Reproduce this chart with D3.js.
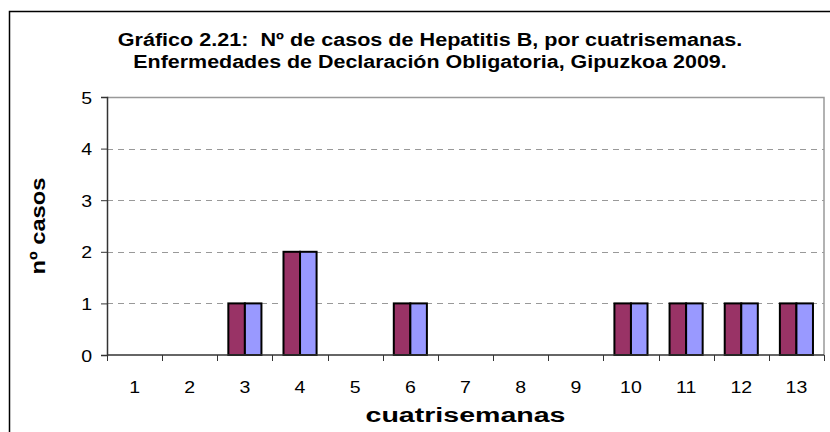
<!DOCTYPE html>
<html>
<head>
<meta charset="utf-8">
<script src="https://cdn.jsdelivr.net/npm/d3@7"></script>
<style>
body { margin:0; background:#fff; }
svg text { font-family: "Liberation Sans", Arial, sans-serif; fill:#000; white-space: pre; }
</style>
</head>
<body>
<div id="chart"></div>
<script>
// Hepatitis B cases per 4-week period - grouped bars

var categories = ["1","2","3","4","5","6","7","8","9","10","11","12","13"];
var seriesA = [0,0,1,2,0,1,0,0,0,1,1,1,1];
var seriesB = [0,0,1,2,0,1,0,0,0,1,1,1,1];
var yTicks = [0,1,2,3,4,5];
var titleLines = ["Gráfico 2.21:  Nº de casos de Hepatitis B, por cuatrisemanas.",
                  "Enfermedades de Declaración Obligatoria, Gipuzkoa 2009."];

var W = 830, H = 432;
var margin = {top:97, bottom:77, left:107, right:6};
var plotW = W - margin.left - margin.right;
var plotH = H - margin.top - margin.bottom;
var stretch = 1.22; // the original picture is a bit wider than tall

var svg = d3.select("#chart").append("svg")
    .attr("width", W)
    .attr("height", H);

//stretch a centred text along its direction so it spans the given length
function fitWidth(sel, cx, cy, width, rot){
    sel.each(function(){
        let w = this.getComputedTextLength();
        d3.select(this).attr("transform",
            "translate(" + cx + "," + cy + ")" + (rot ? " rotate(" + rot + ")" : "") +
            " scale(" + (width / w) + ",1)");
    });
}

//outer frame
svg.append("rect")
    .attr("x", 9.5).attr("y", 11.5)
    .attr("width", W + 20).attr("height", H + 20)
    .attr("fill", "none")
    .attr("stroke", "#000")
    .attr("stroke-width", 1.5);

//title
var titleWidths = [625, 594];
svg.selectAll(".title")
    .data(titleLines)
    .enter()
    .append("text")
    .attr("class", "title")
    .attr("text-anchor", "middle")
    .style("font-size", "19px")
    .style("font-weight", "bold")
    .text(d => d)
    .each(function(d,i){
        fitWidth(d3.select(this), 430, 46 + i*22, titleWidths[i]);
    });

var g = svg.append("g")
    .attr("transform", "translate(" + margin.left + "," + margin.top + ")");

var x = d3.scaleBand()
    .domain(categories)
    .range([0, plotW])
    .paddingInner(0.4)
    .paddingOuter(0.2);

var step = x.step();

var y = d3.scaleLinear()
    .domain([0,5])
    .range([plotH, 0]);

//grid lines
g.selectAll(".grid")
    .data(yTicks.filter(d => d > 0 && d < 5))
    .enter()
    .append("line")
    .attr("x1", 0).attr("x2", plotW)
    .attr("y1", d => Math.round(y(d)) + 0.5)
    .attr("y2", d => Math.round(y(d)) + 0.5)
    .attr("stroke", "#999")
    .attr("stroke-dasharray", "6,5");

//plot border top/right
g.append("path")
    .attr("d", "M0," + (y(5)+0.5) + "H" + plotW + "V" + plotH)
    .attr("fill", "none")
    .attr("stroke", "#999")
    .attr("stroke-width", 1.5);

//bars
var x1 = d3.scaleBand()
    .domain(["a","b"])
    .range([0, x.bandwidth()]);

var rows = categories.map((c,i) => ({cat:c, a:seriesA[i], b:seriesB[i]}));
var colors = {a:"#993366", b:"#9999FF"};

var grp = g.append("g")
    .selectAll("g")
    .data(rows)
    .enter()
    .append("g")
    .attr("transform", d => "translate(" + x(d.cat) + ",0)");

grp.selectAll("rect")
    .data(d => ["a","b"].map(k => ({key:k, value:d[k]})).filter(v => v.value > 0))
    .enter()
    .append("rect")
    .attr("x", d => x1(d.key))
    .attr("y", d => y(d.value))
    .attr("width", x1.bandwidth())
    .attr("height", d => plotH - y(d.value))
    .attr("fill", d => colors[d.key])
    .attr("stroke", "#000")
    .attr("stroke-width", 2);

//y axis
var yAxis = g.append("g")
    .call(d3.axisLeft(y).tickValues(yTicks).tickFormat(d3.format("d")).tickSize(6).tickPadding(6));
yAxis.select(".domain").attr("stroke", "#333").attr("stroke-width", 1.5);
yAxis.selectAll(".tick line").attr("stroke", "#333");
yAxis.selectAll(".tick text").remove();
yAxis.selectAll(".tick")
    .append("text")
    .attr("transform", "translate(-15,6) scale(" + stretch + ",1)")
    .attr("text-anchor", "end")
    .style("font-size", "16px")
    .text(d => d);

//x axis - ticks between categories
var xAxis = g.append("g")
    .attr("transform", "translate(0," + plotH + ")");
xAxis.append("line")
    .attr("x1", 0).attr("x2", plotW)
    .attr("stroke", "#333")
    .attr("stroke-width", 1.5);
xAxis.selectAll(".xt")
    .data(d3.range(categories.length + 1))
    .enter()
    .append("line")
    .attr("x1", d => Math.round(d*step) + 0.5)
    .attr("x2", d => Math.round(d*step) + 0.5)
    .attr("y1", 0).attr("y2", 6)
    .attr("stroke", "#333");
xAxis.selectAll(".xl")
    .data(categories)
    .enter()
    .append("text")
    .attr("transform", d => "translate(" + (x(d) + x.bandwidth()/2) + ",38) scale(" + stretch + ",1)")
    .attr("text-anchor", "middle")
    .style("font-size", "16px")
    .text(d => d);

//axis labels
svg.append("text")
    .attr("text-anchor", "middle")
    .style("font-size", "20px")
    .style("font-weight", "bold")
    .text("nº casos")
    .call(fitWidth, 45, 226, 97, -90);

svg.append("text")
    .attr("text-anchor", "middle")
    .style("font-size", "20px")
    .style("font-weight", "bold")
    .text("cuatrisemanas")
    .call(fitWidth, margin.left + plotW/2, 422, 200);
</script>
</body>
</html>
